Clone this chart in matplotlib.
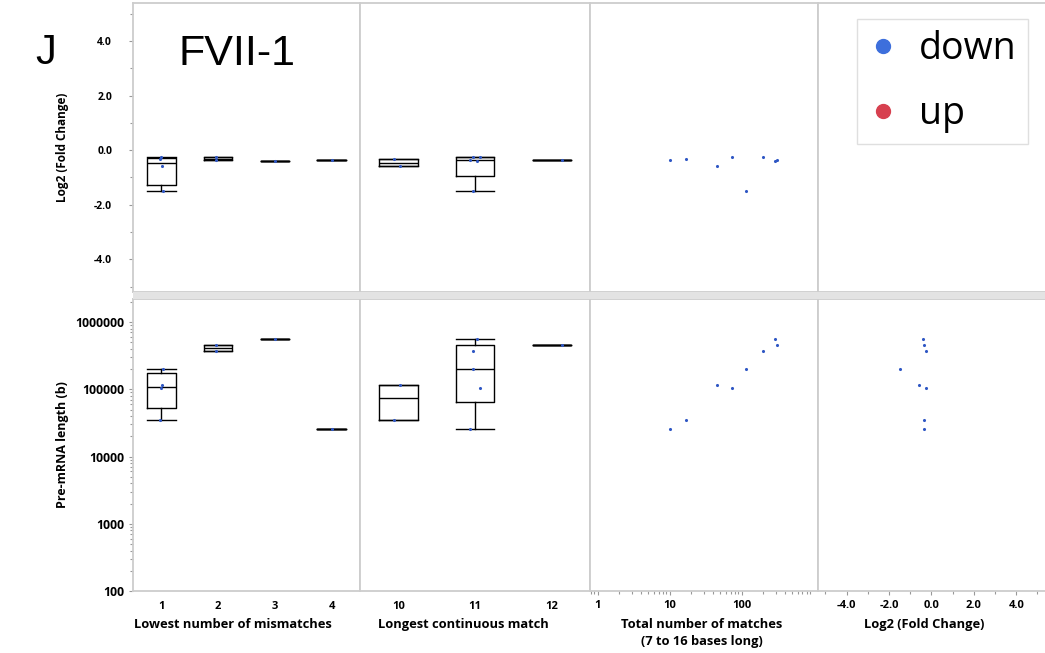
import numpy as np
import matplotlib
matplotlib.use('Agg')
import matplotlib.pyplot as plt
from matplotlib.patches import Rectangle
from matplotlib.lines import Line2D
from matplotlib.ticker import LogLocator, MultipleLocator, FixedLocator, NullFormatter, FormatStrFormatter

# values per gene
mismatches = [1, 1, 1, 1, 2, 2, 3, 4]
longest_match = [11, 10, 11, 10, 11, 12, 11, 11]
total_matches = [114, 46, 73, 17, 195, 308, 295, 10]
log2_fc = [-1.5, -0.58, -0.26, -0.33, -0.26, -0.35, -0.40, -0.36]
pre_mrna_len = [198000, 115000, 103000, 35500, 369000, 454000, 557000, 26000]

mism_cats = [1, 2, 3, 4]
long_cats = [10, 11, 12]
# small horizontal jitter (category units) as in the original plot
jitter_mism = [0.03, 0.01, -0.01, -0.03, -0.03, -0.03, 0.0, 0.0]
jitter_long = [-0.03, 0.02, 0.06, -0.06, -0.02, 0.13, 0.03, -0.06]

plt.rcParams['font.family'] = ['Open Sans', 'DejaVu Sans']
plt.rcParams['axes.unicode_minus'] = False

W, H = 1045, 653
fig = plt.figure(figsize=(W / 100, H / 100), dpi=100)

col_x = [133, 360, 590, 818, 1048]
top_row = (3, 292)
bot_row = (299, 591)

spine_col = '#cdcdcd'
dot_col = '#2f57c4'
box_kw = dict(color='black', lw=1)


def make_ax(c, row):
    x0, x1 = col_x[c], col_x[c + 1]
    y0, y1 = row
    ax = fig.add_axes([x0 / W, 1 - y1 / H, (x1 - x0) / W, (y1 - y0) / H])
    for s in ax.spines.values():
        s.set_color(spine_col)
        s.set_linewidth(1.3)
    ax.tick_params(which='both', colors='#999999', labelcolor='black', length=3, width=0.8)
    ax.tick_params(which='minor', length=2)
    return ax


def box_stats(vals):
    v = np.sort(np.asarray(vals, float))
    q1, med, q3 = np.percentile(v, [25, 50, 75], method='weibull')
    iqr = q3 - q1
    lo = v[v >= q1 - 1.5 * iqr].min()
    hi = v[v <= q3 + 1.5 * iqr].max()
    return dict(med=med, q1=q1, q3=q3, whislo=lo, whishi=hi, fliers=[])


def cat_panel(ax, cats, groups, jitter, yvals):
    stats = []
    for c in cats:
        stats.append(box_stats([y for g, y in zip(groups, yvals) if g == c]))
    ax.bxp(stats, positions=range(len(cats)), widths=0.5, capwidths=0.5,
           showfliers=False, boxprops=box_kw, whiskerprops=box_kw,
           capprops=box_kw, medianprops=box_kw)
    xs = [cats.index(g) + j for g, j in zip(groups, jitter)]
    ax.scatter(xs, yvals, s=5, color=dot_col, zorder=5, linewidths=0)
    ax.set_xlim(-0.5, len(cats) - 0.5)


fc_lim = (-5.2, 5.4)
len_lim = (100, 2.2e6)

# ---- top row: Log2 fold change ----
axes_top = []
for c in range(4):
    ax = make_ax(c, top_row)
    ax.set_ylim(*fc_lim)
    ax.set_xticks([])
    axes_top.append(ax)

cat_panel(axes_top[0], mism_cats, mismatches, jitter_mism, log2_fc)
cat_panel(axes_top[1], long_cats, longest_match, jitter_long, log2_fc)
axes_top[2].scatter(total_matches, log2_fc, s=5, color=dot_col, linewidths=0)
axes_top[2].set_xscale('log')
axes_top[2].set_xlim(0.78, 1150)
axes_top[2].set_xticks([])
axes_top[2].xaxis.set_minor_locator(FixedLocator([]))

ax = axes_top[0]
ax.yaxis.set_major_locator(MultipleLocator(2))
ax.yaxis.set_minor_locator(MultipleLocator(1))
ax.yaxis.set_major_formatter(FormatStrFormatter('%.1f'))
ax.tick_params(axis='y', labelsize=7.5, pad=12)
ax.set_ylabel('Log2 (Fold Change)', fontsize=8.5, fontweight='bold', labelpad=18)
for ax in axes_top[1:]:
    ax.set_yticks([])
    ax.yaxis.set_minor_locator(FixedLocator([]))

# ---- bottom row: pre-mRNA length ----
axes_bot = []
for c in range(4):
    ax = make_ax(c, bot_row)
    ax.set_yscale('log')
    ax.set_ylim(*len_lim)
    axes_bot.append(ax)

cat_panel(axes_bot[0], mism_cats, mismatches, jitter_mism, pre_mrna_len)
cat_panel(axes_bot[1], long_cats, longest_match, jitter_long, pre_mrna_len)
axes_bot[0].set_xticks(range(len(mism_cats)), [str(c) for c in mism_cats])
axes_bot[1].set_xticks(range(len(long_cats)), [str(c) for c in long_cats])
for ax in axes_bot[:2]:
    ax.tick_params(axis='x', length=0, pad=7)

axes_bot[2].scatter(total_matches, pre_mrna_len, s=5, color=dot_col, linewidths=0)
axes_bot[2].set_xscale('log')
axes_bot[2].set_xlim(0.78, 1150)
axes_bot[2].set_xticks([1, 10, 100], ['1', '10', '100'])
axes_bot[2].xaxis.set_minor_locator(LogLocator(base=10, subs=np.arange(2, 10)))
axes_bot[2].xaxis.set_minor_formatter(NullFormatter())

axes_bot[3].scatter(log2_fc, pre_mrna_len, s=5, color=dot_col, linewidths=0)
axes_bot[3].set_xlim(-5.35, 5.5)
axes_bot[3].xaxis.set_major_locator(MultipleLocator(2))
axes_bot[3].xaxis.set_minor_locator(MultipleLocator(1))
axes_bot[3].xaxis.set_major_formatter(FormatStrFormatter('%.1f'))

for ax in axes_bot:
    ax.tick_params(axis='x', labelsize=8)

ax = axes_bot[0]
ax.set_yticks([100, 1000, 10000, 100000, 1000000],
              ['100', '1000', '10000', '100000', '1000000'])
ax.yaxis.set_minor_locator(LogLocator(base=10, subs=np.arange(2, 10)))
ax.yaxis.set_minor_formatter(NullFormatter())
ax.tick_params(axis='y', labelsize=8.8)
ax.set_ylabel('Pre-mRNA length (b)', fontsize=9, fontweight='bold', labelpad=4)
for ax in axes_bot[1:]:
    ax.set_yticks([])
    ax.yaxis.set_minor_locator(FixedLocator([]))

# bold tick labels everywhere
for ax in axes_top + axes_bot:
    for t in ax.get_xticklabels() + ax.get_yticklabels():
        t.set_fontweight('bold')

xlabels = ['Lowest number of mismatches', 'Longest continuous match',
           'Total number of matches\n(7 to 16 bases long)', 'Log2 (Fold Change)']
xlabel_pos = [0.44, 0.45, 0.49, 0.46]
for ax, lab, xp in zip(axes_bot, xlabels, xlabel_pos):
    ax.set_xlabel(lab, fontsize=9.3, fontweight='bold', labelpad=5, linespacing=1.4)
    ax.xaxis.set_label_coords(xp, -0.093)
    ax.xaxis.label.set_va('top')

# gray band between the two rows
fig.add_artist(Rectangle((133 / W, 1 - 299 / H), 1, 7 / H, transform=fig.transFigure,
                         facecolor='#e3e3e3', edgecolor='none', zorder=10))

# panel letter and title
fig.text(35 / W, 1 - 64 / H, 'J', fontsize=30, family='Liberation Sans')
fig.text(178 / W, 1 - 65 / H, 'FVII-1', fontsize=31, family='Liberation Sans')

# legend
handles = [Line2D([], [], ls='none', marker='o', ms=10, color='#3d6fdc'),
           Line2D([], [], ls='none', marker='o', ms=10, color='#d7404f')]
leg = axes_top[3].legend(handles, ['down', 'up'], loc='upper left',
                         bbox_to_anchor=(0.17, 0.945), prop=dict(family='Open Sans', size=27),
                         frameon=True, fancybox=False, edgecolor='#d8d8d8',
                         handletextpad=0.55, labelspacing=0.72, borderpad=0.3,
                         handlelength=0.8, borderaxespad=0)
leg.get_frame().set_linewidth(1)

fig.savefig('out.png', dpi=100, facecolor='white')
